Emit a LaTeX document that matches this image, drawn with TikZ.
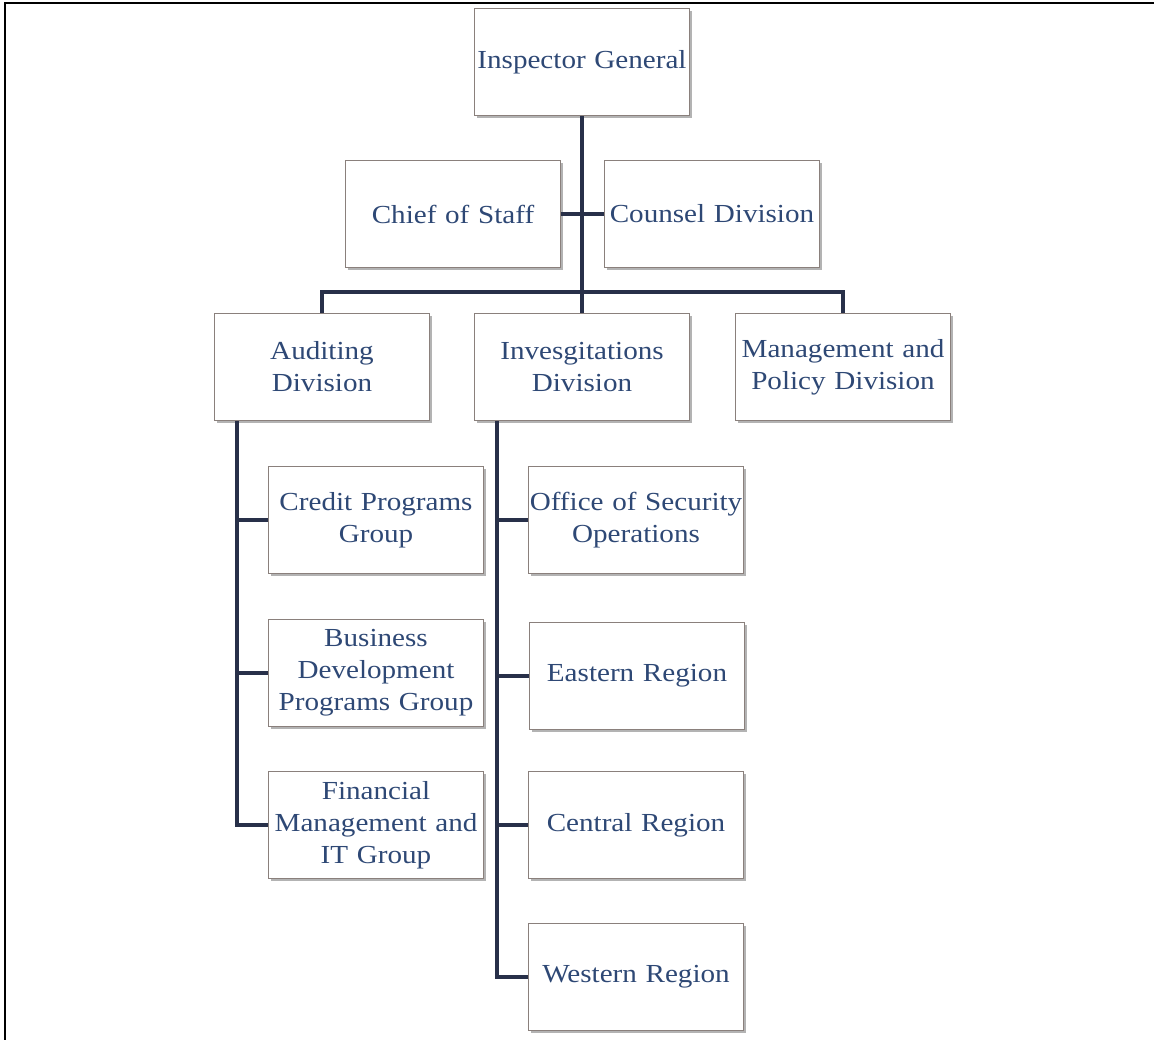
\documentclass[tikz,border=0pt]{standalone}
\usepackage{fontspec}
\setmainfont{Liberation Serif}[FakeStretch=1.12]
\usetikzlibrary{shadows}
\definecolor{navy}{HTML}{283049}
\definecolor{txtblue}{HTML}{2E4875}
\definecolor{boxline}{HTML}{8A807C}
\tikzset{
  orgbox/.style={draw=boxline, line width=0.9pt, fill=white,
    minimum width=215pt, minimum height=107pt, text width=214pt,
    align=center, inner sep=0pt, text=txtblue,
    font=\fontsize{26}{32}\selectfont,
    drop shadow={shadow xshift=2pt, shadow yshift=-2.5pt, opacity=0.6, fill=gray}},
  link/.style={draw=navy, line width=4pt, line join=miter}
}
\begin{document}
\begin{tikzpicture}[x=1pt,y=-1pt]
\useasboundingbox (0,0) rectangle (1154,1040);
\draw[line width=2pt, black] (5,1040) -- (5,3) -- (1154,3);

\coordinate (bar) at (582,292);
\coordinate (audtop) at (237,421);
\coordinate (invtop) at (497,421);

\node[orgbox] (ig) at (582,62) {Inspector General};
\node[orgbox] (cos) at (453,214) {Chief of Staff};
\node[orgbox] (cd) at (712,214) {Counsel Division};
\node[orgbox] (aud) at (322,367) {Auditing\\Division};
\node[orgbox] (inv) at (582,367) {Invesgitations\\Division};
\node[orgbox] (mgt) at (843,367) {Management and\\Policy Division};
\node[orgbox] (cpg) at (376,520) {Credit Programs\\Group};
\node[orgbox] (bdp) at (376,673) {Business\\Development\\Programs Group};
\node[orgbox] (fin) at (376,825) {Financial\\Management and\\IT Group};
\node[orgbox] (oso) at (636,520) {Office of Security\\Operations};
\node[orgbox] (east) at (637,676) {Eastern Region};
\node[orgbox] (cent) at (636,825) {Central Region};
\node[orgbox] (west) at (636,977) {Western Region};

\draw[link] (ig.south) -- (inv.north);
\draw[link] (cos.east) -- (cd.west);
\draw[link] (aud.north) |- (bar) -| (mgt.north);
\draw[link] (audtop) |- (fin.west);
\draw[link] (cpg.west) -- (cpg.west -| audtop);
\draw[link] (bdp.west) -- (bdp.west -| audtop);
\draw[link] (invtop) |- (west.west);
\draw[link] (oso.west) -- (oso.west -| invtop);
\draw[link] (east.west) -- (east.west -| invtop);
\draw[link] (cent.west) -- (cent.west -| invtop);
\end{tikzpicture}
\end{document}
